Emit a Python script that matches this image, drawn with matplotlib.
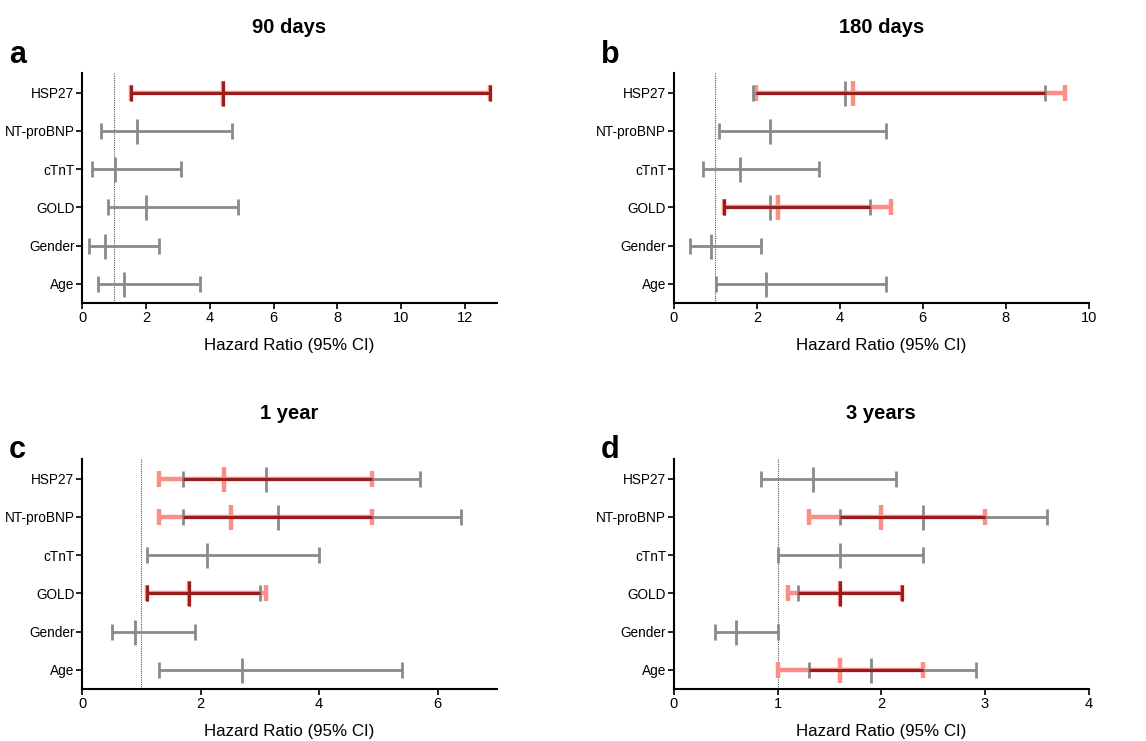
import numpy as np
import matplotlib
matplotlib.use('Agg')
import matplotlib.pyplot as plt

plt.rcParams['font.family'] = ['Liberation Sans', 'DejaVu Sans']

labels = ['HSP27', 'NT-proBNP', 'cTnT', 'GOLD', 'Gender', 'Age']
nan = np.nan

# univariate (grey)
uni_90_hr = [4.43, 1.71, 1.02, 2.00, 0.72, 1.31]
uni_90_lo = [1.54, 0.60, 0.31, 0.80, 0.21, 0.51]
uni_90_hi = [12.79, 4.70, 3.11, 4.90, 2.42, 3.70]
# multivariate (salmon)
adj_90_hr = [4.43, nan, nan, nan, nan, nan]
adj_90_lo = [1.54, nan, nan, nan, nan, nan]
adj_90_hi = [12.79, nan, nan, nan, nan, nan]

uni_180_hr = [4.12, 2.31, 1.60, 2.31, 0.90, 2.21]
uni_180_lo = [1.91, 1.10, 0.70, 1.21, 0.40, 1.01]
uni_180_hi = [8.94, 5.11, 3.51, 4.73, 2.11, 5.11]
adj_180_hr = [4.31, nan, nan, 2.50, nan, nan]
adj_180_lo = [1.98, nan, nan, 1.21, nan, nan]
adj_180_hi = [9.44, nan, nan, 5.23, nan, nan]

uni_1y_hr = [3.10, 3.30, 2.10, 1.80, 0.90, 2.70]
uni_1y_lo = [1.70, 1.70, 1.10, 1.10, 0.50, 1.30]
uni_1y_hi = [5.71, 6.40, 4.00, 3.00, 1.90, 5.40]
adj_1y_hr = [2.40, 2.51, nan, 1.80, nan, nan]
adj_1y_lo = [1.30, 1.30, nan, 1.10, nan, nan]
adj_1y_hi = [4.90, 4.90, nan, 3.10, nan, nan]

uni_3y_hr = [1.34, 2.40, 1.60, 1.60, 0.60, 1.90]
uni_3y_lo = [0.84, 1.60, 1.00, 1.20, 0.40, 1.30]
uni_3y_hi = [2.14, 3.60, 2.40, 2.20, 1.00, 2.91]
adj_3y_hr = [nan, 2.00, nan, 1.60, nan, 1.60]
adj_3y_lo = [nan, 1.30, nan, 1.10, nan, 1.00]
adj_3y_hi = [nan, 3.00, nan, 2.20, nan, 2.40]

panels = [
    ('a', '90 days', uni_90_hr, uni_90_lo, uni_90_hi, adj_90_hr, adj_90_lo, adj_90_hi, 13, [0, 2, 4, 6, 8, 10, 12]),
    ('b', '180 days', uni_180_hr, uni_180_lo, uni_180_hi, adj_180_hr, adj_180_lo, adj_180_hi, 10, [0, 2, 4, 6, 8, 10]),
    ('c', '1 year', uni_1y_hr, uni_1y_lo, uni_1y_hi, adj_1y_hr, adj_1y_lo, adj_1y_hi, 7, [0, 2, 4, 6]),
    ('d', '3 years', uni_3y_hr, uni_3y_lo, uni_3y_hi, adj_3y_hr, adj_3y_lo, adj_3y_hi, 4, [0, 1, 2, 3, 4]),
]

GREY = '#8a8a8a'
SALMON = '#f98f86'
DARK = '#9b1c1c'

fig = plt.figure(figsize=(11.46, 7.41), dpi=100)
pos = [(0.0716, 0.591), (0.588, 0.591), (0.0716, 0.070), (0.588, 0.070)]
letter_pos = [(0.008, 0.926), (0.524, 0.926), (0.008, 0.393), (0.524, 0.393)]

for i, (letter, title, hr, lo, hi, ahr, alo, ahi, xmax, ticks) in enumerate(panels):
    ax = fig.add_axes([pos[i][0], pos[i][1], 0.362, 0.310])
    y = np.arange(len(labels))[::-1]
    hr, lo, hi = np.array(hr), np.array(lo), np.array(hi)
    ahr, alo, ahi = np.array(ahr), np.array(alo), np.array(ahi)

    ax.axvline(1, color='#555555', lw=0.8, ls=(0, (1, 1)), zorder=1)

    m = ~np.isnan(ahr)
    # salmon (adjusted)
    ax.hlines(y[m], alo[m], ahi[m], color=SALMON, lw=3.2, zorder=2)
    ax.plot(alo[m], y[m], '|', color=SALMON, ms=11, mew=3.2, zorder=2)
    ax.plot(ahi[m], y[m], '|', color=SALMON, ms=11, mew=3.2, zorder=2)
    ax.plot(ahr[m], y[m], '|', color=SALMON, ms=18, mew=3.2, zorder=2)

    # grey (univariate)
    ax.hlines(y, lo, hi, color=GREY, lw=2, zorder=3)
    ax.plot(lo, y, '|', color=GREY, ms=11, mew=2, zorder=3)
    ax.plot(hi, y, '|', color=GREY, ms=11, mew=2, zorder=3)
    ax.plot(hr, y, '|', color=GREY, ms=18, mew=2, zorder=3)

    # overlap of both estimates shown in dark red
    olo = np.maximum(lo[m], alo[m])
    ohi = np.minimum(hi[m], ahi[m])
    ax.hlines(y[m], olo, ohi, color=DARK, lw=2.2, zorder=4)
    for g, s, size in [(lo, alo, 11), (hi, ahi, 11), (hr, ahr, 18)]:
        same = m & np.isclose(g, s, atol=0.03, equal_nan=False)
        ax.plot(g[same], y[same], '|', color=DARK, ms=size, mew=2.2, zorder=5)

    ax.set_xlim(0, xmax)
    ax.set_ylim(-0.5, len(labels) - 0.5)
    ax.set_xticks(ticks)
    ax.set_yticks(y)
    ax.set_yticklabels(labels)
    ax.spines['top'].set_visible(False)
    ax.spines['right'].set_visible(False)
    for s in ['left', 'bottom']:
        ax.spines[s].set_linewidth(1.5)
    ax.tick_params(axis='both', width=1.2, length=4, pad=2)
    ax.tick_params(axis='x', labelsize=10.5)
    ax.tick_params(axis='y', labelsize=9.8, pad=1.5)
    ax.set_xlabel('Hazard Ratio (95% CI)', fontsize=12.2, labelpad=9)
    ax.set_title(title, fontsize=14.5, fontweight='bold', pad=29)
    fig.text(letter_pos[i][0], letter_pos[i][1], letter, fontsize=22,
             fontweight='bold', va='center', ha='left')

fig.savefig('out.png', dpi=100)
